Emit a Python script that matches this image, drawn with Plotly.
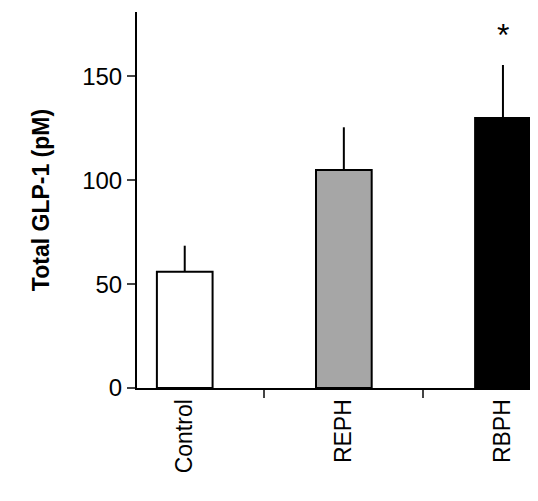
import plotly.graph_objects as go

groups = ["Control", "REPH", "RBPH"]
glp1 = [56, 105, 130]
sem = [12.5, 20.5, 25.5]
colors = ["white", "#a6a6a6", "black"]

fig = go.Figure()
fig.add_trace(go.Bar(
    x=groups, y=glp1, width=0.35,
    marker=dict(color=colors, line=dict(color="black", width=2)),
    error_y=dict(type="data", symmetric=False, array=sem,
                 arrayminus=[0, 0, 0], color="black", thickness=2, width=0),
))
fig.add_annotation(x="RBPH", y=170, text="*", showarrow=False,
                   font=dict(size=32, color="black"))

fig.update_layout(
    width=522, height=485, showlegend=False,
    plot_bgcolor="white", paper_bgcolor="white",
    margin=dict(l=129, r=0, t=4, b=105),
    font=dict(family="Liberation Sans, Arial", color="black", size=24),
)
fig.update_xaxes(range=[-0.3, 2.17], showline=True, linecolor="black", linewidth=2,
                 ticks="outside", tickson="boundaries", ticklen=8, tickwidth=2,
                 tickangle=-90, tickfont=dict(size=23))
fig.update_yaxes(range=[0, 181], tickvals=[0, 50, 100, 150], showline=True,
                 linecolor="black", linewidth=2, ticks="outside", ticklen=8,
                 tickwidth=2, showgrid=False, zeroline=False,
                 title=dict(text="<b>Total GLP-1 (pM)</b>", font=dict(size=23), standoff=26))
fig.write_html("out.html")
